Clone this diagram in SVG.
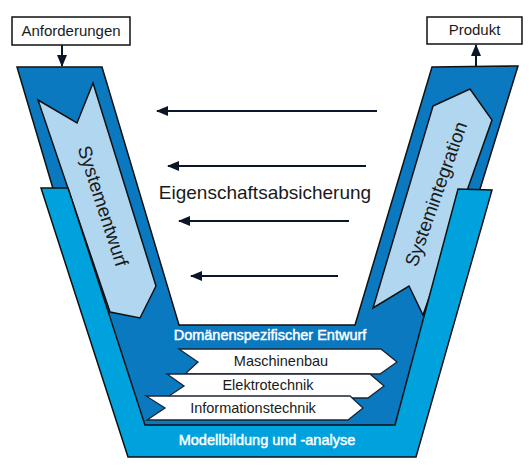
<svg xmlns="http://www.w3.org/2000/svg" width="529" height="469" viewBox="0 0 529 469">
<defs>
<style>
.band{stroke:#111;stroke-width:1.5;stroke-linejoin:miter}
.dark{fill:#0a79bf}
.light{fill:#00a2de}
.pale{fill:#b0d6f0;stroke:#111;stroke-width:1.5}
.dom{fill:#fff;stroke:#1b2533;stroke-width:1.3}
.box{fill:#fff;stroke:#111;stroke-width:1.5}
.t{font-family:"Liberation Sans",Arial,sans-serif;fill:#1a1a1a}
.w{font-family:"Liberation Sans",Arial,sans-serif;fill:#fff;stroke:#fff;stroke-width:0.45;font-size:14.5px}
.con{stroke:#0b1628;stroke-width:2;fill:none}
</style>
<marker id="ah" viewBox="0 0 12 10" refX="11" refY="5" markerWidth="12" markerHeight="10" markerUnits="userSpaceOnUse" orient="auto">
<path d="M0,0 L12,5 L0,10 Z" fill="#0b1628"/>
</marker>
</defs>

<g id="domaenen-band">
<polygon class="band dark" points="17,67 102,67 179,325 355,325 432,67 518,66 405,432 125,432"/>
</g>

<g id="systementwurf">
<polygon class="pale" points="38,100 77,123 93,83 156,286 140,318 110,312"/>
<text class="t" font-size="19" text-anchor="middle" dominant-baseline="central" transform="translate(103,206) rotate(72)">Systementwurf</text>
</g>

<g id="systemintegration">
<polygon class="pale" points="433,106 470,89 492,120 423,315 409,286 373,308"/>
<text class="t" font-size="19" text-anchor="middle" dominant-baseline="central" transform="translate(436,194) rotate(-70.5)">Systemintegration</text>
</g>

<g id="modell-band">
<polygon class="band light" points="41,188 68,188 145,425 395,425 458,189 492,190 416,457 128,457"/>
<text class="w" x="267" y="445" text-anchor="middle">Modellbildung und -analyse</text>
</g>

<g id="domaenen-label">
<text class="w" x="270" y="340" text-anchor="middle">Domänenspezifischer Entwurf</text>
</g>

<g id="maschinenbau">
<polygon class="dom" points="179,349 381,349 397,362 380,374 185,374 198,362"/>
<text class="t" font-size="14.5" x="281" y="366" text-anchor="middle">Maschinenbau</text>
</g>

<g id="elektrotechnik">
<polygon class="dom" points="167,374 370,374 384,386 368,398 166,398 184,386"/>
<text class="t" font-size="14.5" x="268" y="390" text-anchor="middle">Elektrotechnik</text>
</g>

<g id="informationstechnik">
<polygon class="dom" points="146,396 350,396 363,408 348,420 147,420 165,408"/>
<text class="t" font-size="14.5" x="253" y="413" text-anchor="middle">Informationstechnik</text>
</g>

<g id="anforderungen">
<rect class="box" x="12" y="17" width="118" height="28"/>
<text class="t" font-size="15" x="71" y="36" text-anchor="middle">Anforderungen</text>
</g>

<g id="produkt">
<rect class="box" x="427" y="17" width="95" height="27"/>
<text class="t" font-size="15" x="474.5" y="35" text-anchor="middle">Produkt</text>
</g>

<g id="eigenschaftsabsicherung">
<text class="t" font-size="19" x="265" y="199" text-anchor="middle">Eigenschaftsabsicherung</text>
</g>

<g id="connectors">
<line class="con" x1="62" y1="45" x2="62" y2="66" marker-end="url(#ah)"/>
<line class="con" x1="476" y1="66" x2="476" y2="45" marker-end="url(#ah)"/>
<line class="con" x1="377" y1="111" x2="157" y2="111" marker-end="url(#ah)"/>
<line class="con" x1="366" y1="166" x2="168" y2="166" marker-end="url(#ah)"/>
<line class="con" x1="349" y1="221" x2="179" y2="221" marker-end="url(#ah)"/>
<line class="con" x1="338" y1="276" x2="191" y2="276" marker-end="url(#ah)"/>
</g>
</svg>
